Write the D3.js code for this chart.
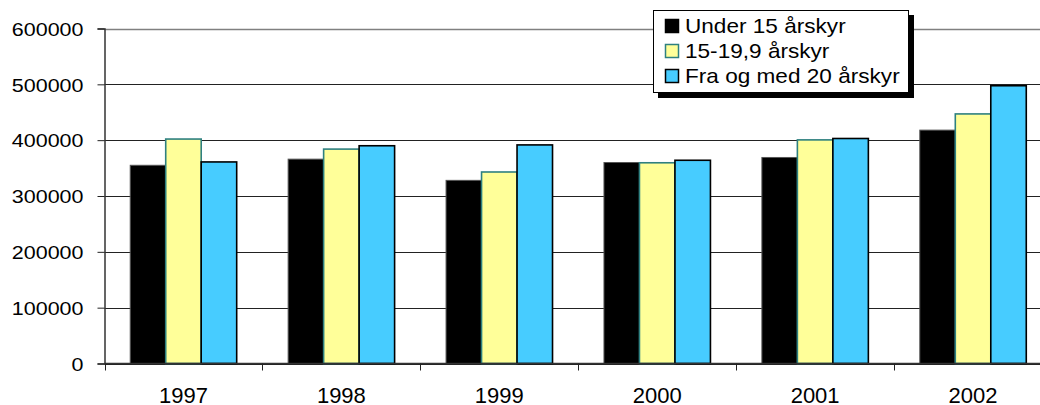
<!DOCTYPE html>
<html>
<head>
<meta charset="utf-8">
<script src="https://cdn.jsdelivr.net/npm/d3@7"></script>
<style>
  body { margin: 0; background: #fff; }
  svg { display: block; font-family: "Liberation Sans", Arial, sans-serif; }
</style>
</head>
<body>
<svg id="chart" width="1040" height="405"></svg>
<script>
// les données
const years = ['1997', '1998', '1999', '2000', '2001', '2002'];
const seriesNames = ['Under 15 årskyr', '15-19,9 årskyr', 'Fra og med 20 årskyr'];
const under15 = [355000, 366000, 328000, 360000, 369000, 418000];
const from15to19 = [402000, 384000, 343000, 359500, 400500, 447000];
const from20 = [361000, 390000, 391500, 364000, 403000, 497500];
const yTicks = [0, 100000, 200000, 300000, 400000, 500000, 600000];

const fills = ['#000000', '#FFFF99', '#47CCFF'];
const strokes = ['#555555', '#2E8080', '#000000'];

const svg = d3.select('#chart');
const margin = { top: 28.5, left: 104.5, bottom: 363.5, right: 1052 };

const x = d3.scaleBand()
    .domain(years)
    .range([margin.left, margin.right]);

const xSub = d3.scaleBand()
    .domain(d3.range(3))
    .range([0, x.bandwidth()])
    .paddingOuter(0.725)
    .paddingInner(0);

const y = d3.scaleLinear()
    .domain([0, 600000])
    .range([margin.bottom, margin.top]);

// lignes de la grille
svg.append('g')
    .selectAll('line')
    .data(yTicks)
    .enter().append('line')
    .attr('x1', margin.left)
    .attr('x2', margin.right)
    .attr('y1', d => Math.round(y(d)) + 0.5)
    .attr('y2', d => Math.round(y(d)) + 0.5)
    .attr('stroke', d => d === 600000 ? '#808080' : '#222')
    .attr('stroke-width', d => d === 600000 ? 1.6 : 1);

// les barres
const table = years.map((yr, i) => ({ year: yr, values: [under15[i], from15to19[i], from20[i]] }));

const groups = svg.append('g')
    .selectAll('g')
    .data(table)
    .enter().append('g')
    .attr('transform', d => `translate(${x(d.year)},0)`);

groups.selectAll('rect')
    .data(d => d.values.map((v, k) => ({ k: k, v: v })))
    .enter().append('rect')
    .attr('x', d => xSub(d.k))
    .attr('width', xSub.bandwidth())
    .attr('y', d => y(d.v))
    .attr('height', d => y(0) - y(d.v))
    .attr('fill', d => fills[d.k])
    .attr('stroke', d => strokes[d.k])
    .attr('stroke-width', d => d.k === 0 ? 1 : 1.6);

// axe Y (texte un peu étiré horizontalement comme sur l'original)
const yAxis = svg.append('g')
    .attr('transform', `translate(${margin.left},0)`)
    .call(d3.axisLeft(y).tickValues(yTicks).tickSize(7).tickFormat(d3.format('d')));
yAxis.select('.domain').attr('stroke', '#333').attr('stroke-width', 1.5);
yAxis.selectAll('.tick line').attr('stroke', '#222');
yAxis.selectAll('text')
    .attr('x', 0)
    .attr('dy', '0.36em')
    .attr('transform', 'translate(-21,0) scale(1.155,1)')
    .attr('font-size', 18.6).attr('fill', '#000')
    .attr('font-family', '"Liberation Sans", Arial, sans-serif');

// axe X
const xTicksPos = years.map(yr => x(yr));
const xAxis = svg.append('g');
xAxis.append('line')
    .attr('x1', margin.left).attr('x2', margin.right)
    .attr('y1', y(0)).attr('y2', y(0))
    .attr('stroke', '#333').attr('stroke-width', 1.5);
xAxis.selectAll('line.tick')
    .data(xTicksPos)
    .enter().append('line')
    .attr('class', 'tick')
    .attr('x1', d => Math.round(d) + 0.5).attr('x2', d => Math.round(d) + 0.5)
    .attr('y1', y(0)).attr('y2', y(0) + 7)
    .attr('stroke', '#222');
xAxis.selectAll('text')
    .data(years)
    .enter().append('text')
    .attr('x', d => x(d) + x.bandwidth() / 2)
    .attr('y', 402.5)
    .attr('text-anchor', 'middle')
    .attr('font-size', 22)
    .text(d => d);

// légende
const lg = svg.append('g').attr('transform', 'translate(653,10)');
lg.append('rect').attr('x', 5).attr('y', 5).attr('width', 256).attr('height', 83).attr('fill', '#000');
lg.append('rect').attr('x', 0.5).attr('y', 0.5).attr('width', 255).attr('height', 82)
    .attr('fill', '#fff').attr('stroke', '#000').attr('stroke-width', 1);

const items = lg.selectAll('g.item')
    .data(seriesNames)
    .enter().append('g')
    .attr('class', 'item')
    .attr('transform', (d, i) => `translate(0,${9 + i * 25})`);
items.append('rect')
    .attr('x', 12.5).attr('y', 0.5).attr('width', 13).attr('height', 13)
    .attr('fill', (d, i) => fills[i])
    .attr('stroke', (d, i) => i === 1 ? '#2E8080' : '#000')
    .attr('stroke-width', 1.5);
items.append('text')
    .attr('transform', 'translate(32,14) scale(1.13,1)')
    .attr('font-size', 20)
    .text(d => d);
</script>
</body>
</html>
